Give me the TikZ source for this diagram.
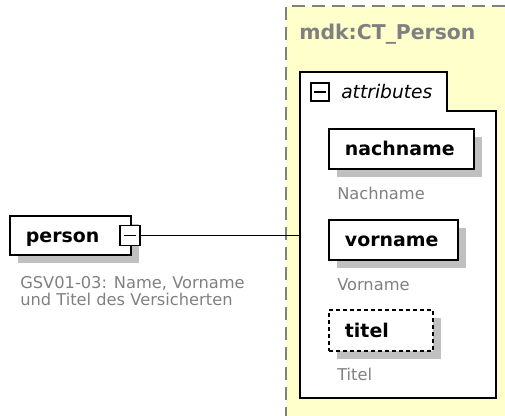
\documentclass[tikz,border=0pt]{standalone}
\usepackage{fontspec}
\setmainfont{DejaVu Sans}
\usetikzlibrary{shadows}
\definecolor{typebg}{RGB}{255,255,204}
\definecolor{notegray}{RGB}{128,128,128}
\definecolor{shadowgray}{RGB}{192,192,192}

\begin{document}
\begin{tikzpicture}[x=0.75pt,y=-0.75pt,
  elem/.style={draw, fill=white, line width=1.4pt, minimum height=30pt,
    inner xsep=12pt, inner ysep=0pt, text width=#1, align=left, anchor=north west,
    text height=10.5pt, text depth=0pt,
    font=\fontsize{14.2}{17}\selectfont\bfseries,
    general shadow={fill=shadowgray, shadow xshift=6pt, shadow yshift=-6pt}},
  note/.style={anchor=north west, inner sep=0pt, text=notegray, align=left,
    font=\fontsize{12.2}{12.75}\selectfont},
  minusbox/.style={draw, fill=white, line width=1pt, minimum size=#1, inner sep=0pt,
    path picture={\draw[line width=1pt] ([xshift=-4.5pt]path picture bounding box.center)
      -- ([xshift=4.5pt]path picture bounding box.center);}}]
  \useasboundingbox (0,0) rectangle (505,416);

  % complex type
  \fill[typebg] (286,6) rectangle (505,416);
  \draw[notegray, line width=1.5pt, dash pattern=on 10pt off 5pt] (505,6) -- (286,6) -- (286,416);
  \node[anchor=west, inner sep=0pt, text=notegray, font=\fontsize{15.3}{18}\selectfont\bfseries] (typename) at (299,34) {mdk:CT\_Person};

  % attributes group
  \draw[fill=white, line width=1.3pt] (300,72) -- (447,72) -- (447,111) -- (496,111) -- (496,398) -- (300,398) -- cycle;
  \coordinate (attrwest) at (300,235.5);
  \node[minusbox=13.5pt] (attrexp) at (320,92) {};
  \node[anchor=west, inner sep=0pt, font=\fontsize{14}{17}\selectfont\itshape] (attrlabel) at (341,92) {attributes};

  \node[elem=84.75pt] (nachname) at (328,128) {nachname};
  \node[note] (nachnamedoc) at (337,187) {Nachname};
  \node[elem=72.75pt] (vorname) at (328,219) {vorname};
  \node[note] (vornamedoc) at (337,278) {Vorname};
  \node[elem=54pt, minimum height=30.75pt, dash pattern=on 3pt off 2.25pt] (titel) at (328,309) {titel};
  \node[note] (titeldoc) at (337,368) {Titel};

  % root element
  \node[elem=66.75pt, minimum height=29.25pt] (person) at (9,215) {person};
  \node[minusbox=15pt] (personexp) at (130,235.5) {};
  \node[note] (persondoc) at (20,276) {GSV01-03: Name, Vorname\\und Titel des Versicherten};
  \draw[line width=1pt] (personexp.east) -- (attrwest);
\end{tikzpicture}
\end{document}
